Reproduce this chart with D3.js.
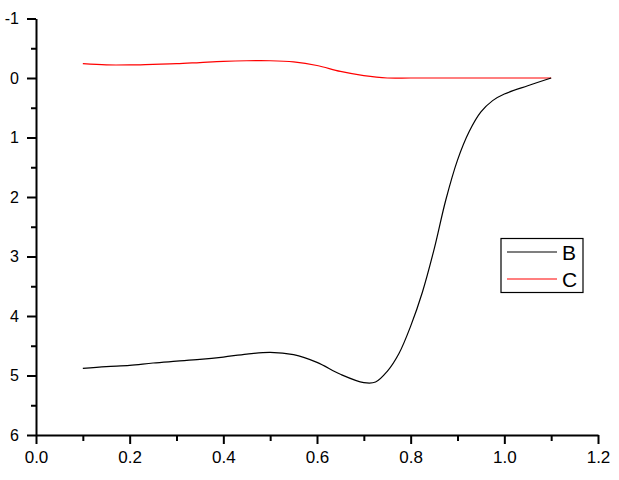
<!DOCTYPE html>
<html>
<head>
<meta charset="utf-8">
<script src="https://cdn.jsdelivr.net/npm/d3@7"></script>
<style>
body { margin: 0; background: #fff; }
svg { display: block; font-family: Arial, "Liberation Sans", sans-serif; }
</style>
</head>
<body>
<svg width="619" height="480"></svg>
<script>
// series B (black)
var bX = [0.1, 0.15, 0.2, 0.25, 0.3, 0.35, 0.4, 0.45, 0.5, 0.55, 0.6, 0.65, 0.7, 0.725, 0.75, 0.775, 0.8, 0.825, 0.85, 0.875, 0.9, 0.925, 0.95, 0.975, 1.0, 1.05, 1.1];
var bY = [4.88, 4.85, 4.83, 4.79, 4.76, 4.73, 4.69, 4.64, 4.61, 4.65, 4.78, 4.98, 5.12, 5.11, 4.93, 4.63, 4.17, 3.60, 2.88, 2.05, 1.38, 0.90, 0.57, 0.38, 0.27, 0.13, 0.0];
// series C (red)
var cX = [0.1, 0.15, 0.2, 0.25, 0.3, 0.35, 0.4, 0.45, 0.5, 0.55, 0.6, 0.65, 0.7, 0.75, 0.8, 0.9, 1.0, 1.1];
var cY = [-0.24, -0.22, -0.22, -0.23, -0.24, -0.26, -0.28, -0.29, -0.29, -0.27, -0.21, -0.11, -0.04, 0, 0, 0, 0, 0];

var xTicks = [0, 0.2, 0.4, 0.6, 0.8, 1.0, 1.2];
var yTicks = [-1, 0, 1, 2, 3, 4, 5, 6];
var legendNames = ['B', 'C'];
var colors = ['#000000', '#ff0000'];

var svg = d3.select('svg');
var x = d3.scaleLinear().domain([0, 1.2]).range([36, 598]);
var y = d3.scaleLinear().domain([-1, 6]).range([18.5, 435]);

var line = d3.line().x(function(d){ return x(d[0]); }).y(function(d){ return y(d[1]); }).curve(d3.curveCatmullRom.alpha(0.5));

svg.append('path').datum(d3.zip(cX, cY)).attr('d', line).attr('fill', 'none').attr('stroke', colors[1]).attr('stroke-width', 1.2);
svg.append('path').datum(d3.zip(bX, bY)).attr('d', line).attr('fill', 'none').attr('stroke', colors[0]).attr('stroke-width', 1.2);

function styleText(g, size){
  g.selectAll('text').attr('font-size', size).attr('fill', '#000').attr('font-family', 'Arial, "Liberation Sans", sans-serif');
}

// x axis
var xMinor = d3.range(0.1, 1.2, 0.2);
svg.append('g').attr('transform', 'translate(0,435)')
  .call(d3.axisBottom(x).tickValues(xMinor).tickSize(6).tickFormat(''))
  .call(function(g){ g.select('.domain').remove(); g.selectAll('line').attr('stroke-width', 2); });
svg.append('g').attr('transform', 'translate(0,435)')
  .call(d3.axisBottom(x).tickValues(xTicks).tickSize(9).tickPadding(7).tickSizeOuter(0).tickFormat(d3.format('.1f')))
  .call(function(g){
    g.select('.domain').attr('stroke-width', 2);
    g.selectAll('line').attr('stroke-width', 2);
    styleText(g, 17);
  });

// y axis
var yMinor = d3.range(-0.5, 6, 1);
svg.append('g').attr('transform', 'translate(36,0)')
  .call(d3.axisLeft(y).tickValues(yMinor).tickSize(5).tickFormat(''))
  .call(function(g){ g.select('.domain').remove(); g.selectAll('line').attr('stroke-width', 2); });
svg.append('g').attr('transform', 'translate(36,0)')
  .call(d3.axisLeft(y).tickValues(yTicks).tickSize(9).tickPadding(8).tickSizeOuter(0).tickFormat(function(d){ return String(d); }))
  .call(function(g){
    g.select('.domain').attr('stroke-width', 2);
    g.selectAll('line').attr('stroke-width', 2);
    styleText(g, 16);
  });

// legend
var lg = svg.append('g');
lg.append('rect').attr('x', 501).attr('y', 238.5).attr('width', 82).attr('height', 54).attr('fill', '#fff').attr('stroke', '#000').attr('stroke-width', 1.2);
legendNames.forEach(function(n, i){
  var ly = 252 + i * 27;
  lg.append('line').attr('x1', 507).attr('x2', 557).attr('y1', ly).attr('y2', ly).attr('stroke', colors[i]).attr('stroke-width', 1.2);
  lg.append('text').attr('x', 562).attr('y', ly + 8).attr('font-size', 21).attr('fill', '#000').text(n);
});
</script>
</body>
</html>
